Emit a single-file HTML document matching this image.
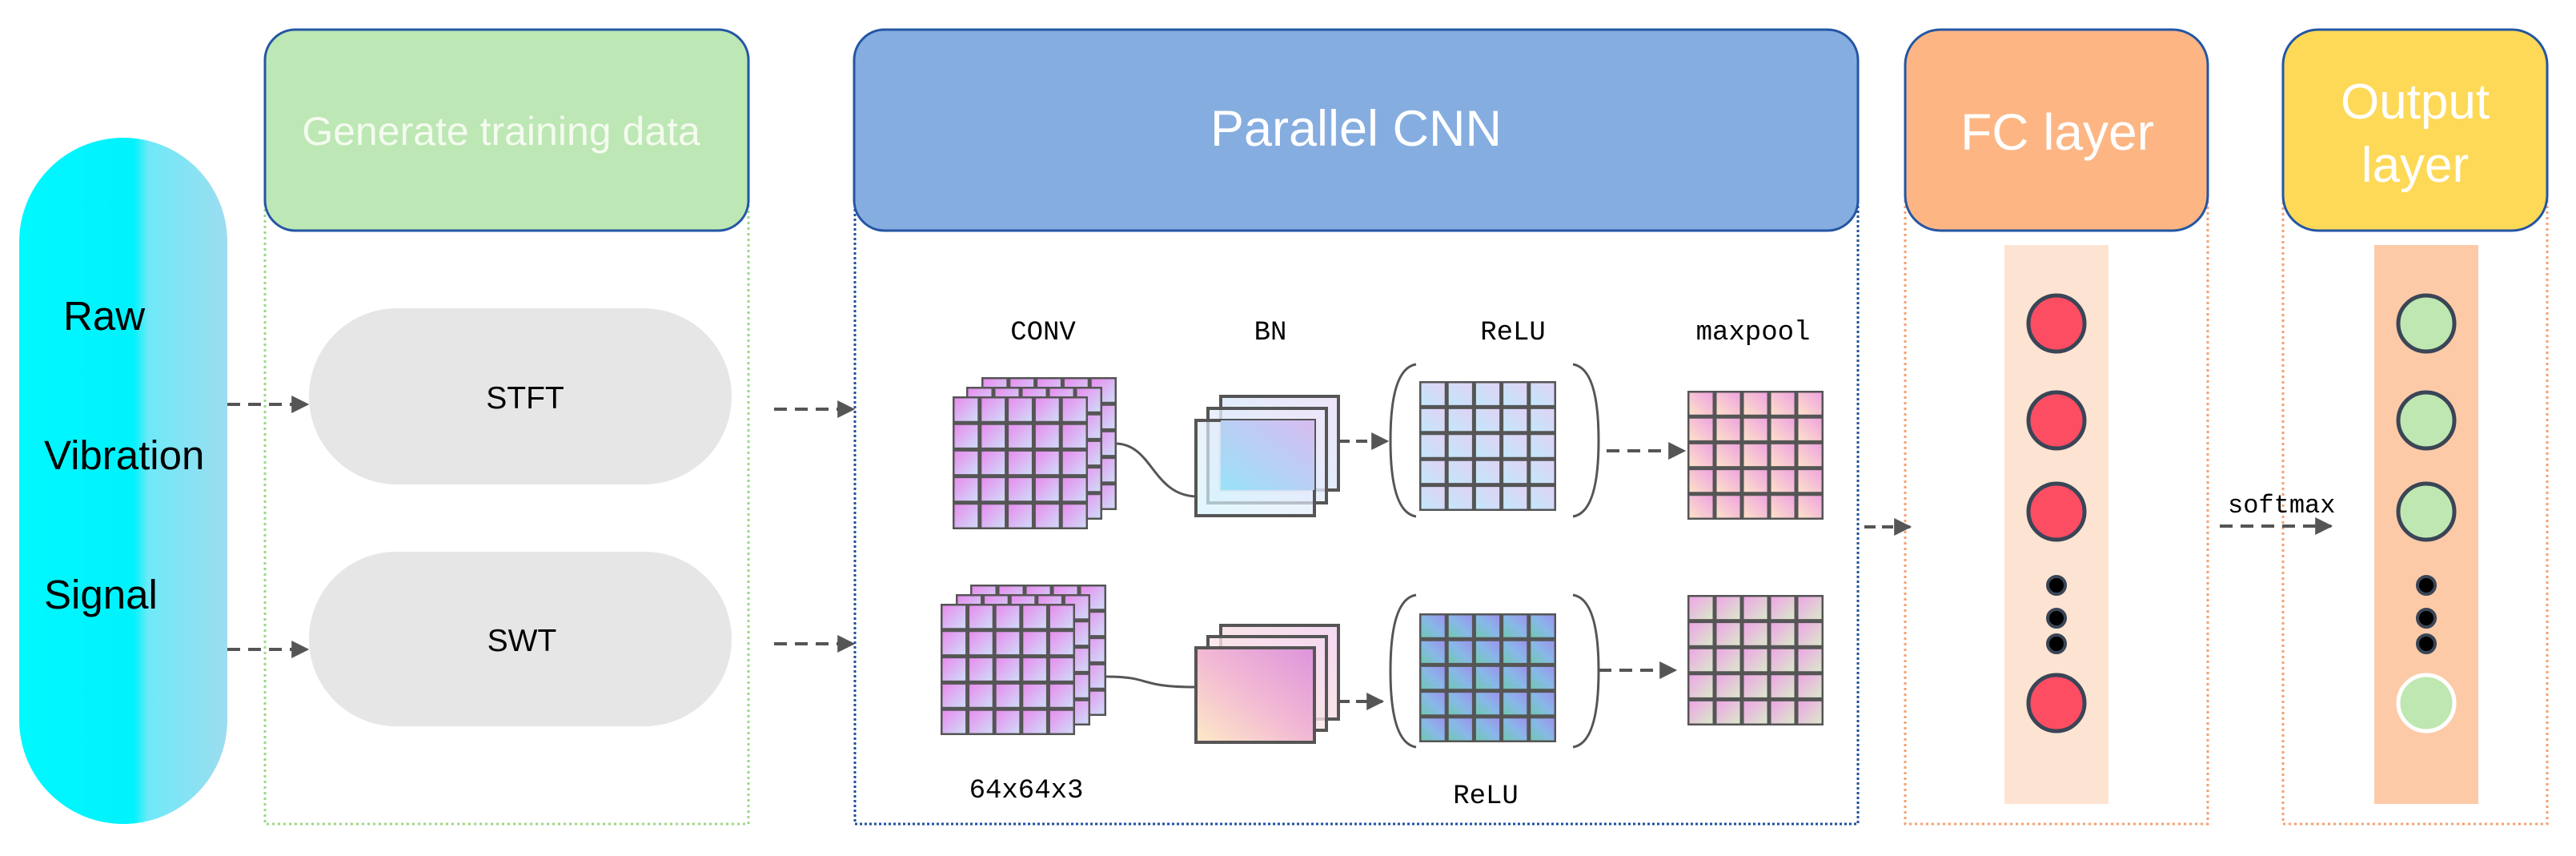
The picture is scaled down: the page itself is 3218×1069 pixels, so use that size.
<!DOCTYPE html>
<html><head><meta charset="utf-8"><style>
html,body{margin:0;padding:0;background:#fff;width:3218px;height:1069px;overflow:hidden}
svg{display:block}
.s{font-family:"Liberation Sans",Arial,sans-serif}
.m{font-family:"Liberation Mono","DejaVu Sans Mono",monospace}
</style></head><body>
<svg width="3218" height="1069" viewBox="0 0 3218 1069" xmlns="http://www.w3.org/2000/svg">
<defs>
<linearGradient id="pill" x1="0" x2="1" y1="0" y2="0">
<stop offset="0" stop-color="#00f8ff"/><stop offset="0.55" stop-color="#00f2fc"/><stop offset="0.62" stop-color="#6ee9f8"/><stop offset="1" stop-color="#9edcf0"/></linearGradient>
<linearGradient id="gconv" x1="0" y1="0" x2="1" y2="1"><stop offset="0" stop-color="#ea86ee"/><stop offset="1" stop-color="#cde2f8"/></linearGradient>
<linearGradient id="grelu" x1="0" y1="1" x2="1" y2="0"><stop offset="0" stop-color="#bfe9fb"/><stop offset="1" stop-color="#e4d0f4"/></linearGradient>
<linearGradient id="gmax" x1="0" y1="1" x2="1" y2="0"><stop offset="0" stop-color="#fde6c6"/><stop offset="1" stop-color="#ee9ee2"/></linearGradient>
<linearGradient id="grelu2" x1="0" y1="1" x2="1" y2="0"><stop offset="0" stop-color="#6ccaa8"/><stop offset="0.5" stop-color="#88b8e8"/><stop offset="1" stop-color="#a08cec"/></linearGradient>
<linearGradient id="gmax2" x1="0" y1="0" x2="1" y2="1"><stop offset="0" stop-color="#f0a0e8"/><stop offset="1" stop-color="#d8eec8"/></linearGradient>
<linearGradient id="gbn" x1="0" y1="1" x2="1" y2="0"><stop offset="0" stop-color="#98e2f8"/><stop offset="1" stop-color="#d8bcf0"/></linearGradient>
<linearGradient id="gbnb" x1="0" y1="1" x2="1" y2="0"><stop offset="0" stop-color="#d4f4fc"/><stop offset="1" stop-color="#f0e4fa"/></linearGradient>
<linearGradient id="gbn2" x1="0" y1="1" x2="1" y2="0"><stop offset="0" stop-color="#fdeac6"/><stop offset="0.5" stop-color="#f2b8d4"/><stop offset="1" stop-color="#dc94dc"/></linearGradient>
<linearGradient id="gbn2b" x1="0" y1="1" x2="1" y2="0"><stop offset="0" stop-color="#fdeede"/><stop offset="1" stop-color="#f4d8f2"/></linearGradient>
<pattern id="pconv" width=".2" height=".2" patternContentUnits="objectBoundingBox"><rect width=".2" height=".2" fill="url(#gconv)"/></pattern>
<pattern id="prelu" width=".2" height=".2" patternContentUnits="objectBoundingBox"><rect width=".2" height=".2" fill="url(#grelu)"/></pattern>
<pattern id="pmax" width=".2" height=".2" patternContentUnits="objectBoundingBox"><rect width=".2" height=".2" fill="url(#gmax)"/></pattern>
<pattern id="prelu2" width=".2" height=".2" patternContentUnits="objectBoundingBox"><rect width=".2" height=".2" fill="url(#grelu2)"/></pattern>
<pattern id="pmax2" width=".2" height=".2" patternContentUnits="objectBoundingBox"><rect width=".2" height=".2" fill="url(#gmax2)"/></pattern>
<symbol id="grid" viewBox="0 0 100 100" preserveAspectRatio="none">
<path d="M0 0H100V100H0Z M20 0V100 M40 0V100 M60 0V100 M80 0V100 M0 20H100 M0 40H100 M0 60H100 M0 80H100" fill="none" stroke="#555" stroke-width="5" vector-effect="non-scaling-stroke"/>
</symbol>
<marker id="ah2" viewBox="0 0 10 10" markerWidth="22" markerHeight="22" refX="9" refY="5" orient="auto" markerUnits="userSpaceOnUse"><path d="M0 0L10 5L0 10Z" fill="#555"/></marker>
</defs>

<rect x="24" y="172" width="260" height="857" rx="130" fill="url(#pill)"/>
<text class="s" x="79" y="412" font-size="51">Raw</text>
<text class="s" x="55" y="586" font-size="51">Vibration</text>
<text class="s" x="55" y="760" font-size="51">Signal</text>

<rect x="331" y="160" width="604" height="869" fill="none" stroke="#9ad884" stroke-width="3" stroke-dasharray="3,4"/>
<rect x="331" y="37" width="604" height="251" rx="38" fill="#bde7b4" stroke="#2356a4" stroke-width="3"/>
<text class="s" x="626" y="181" font-size="50" fill="#f4fbef" text-anchor="middle">Generate training data</text>
<rect x="386" y="385" width="528" height="220" rx="110" fill="#e6e6e6"/>
<rect x="386" y="689" width="528" height="218" rx="109" fill="#e6e6e6"/>
<text class="s" x="656" y="510" font-size="39" text-anchor="middle">STFT</text>
<text class="s" x="652" y="813" font-size="39" text-anchor="middle">SWT</text>
<g stroke="#555" stroke-width="4" stroke-dasharray="16,10" fill="none" marker-end="url(#ah2)">
<line x1="284" y1="505" x2="384" y2="505"/>
<line x1="284" y1="811" x2="384" y2="811"/>
<line x1="967" y1="511" x2="1066" y2="511"/>
<line x1="967" y1="804" x2="1066" y2="804"/>
</g>

<rect x="1068" y="160" width="1253" height="869" fill="none" stroke="#1f4f9e" stroke-width="3" stroke-dasharray="3,3"/>
<rect x="1067" y="37" width="1254" height="251" rx="38" fill="#86ade0" stroke="#2356a4" stroke-width="3"/>
<text class="s" x="1694" y="182" font-size="63" fill="#fff" text-anchor="middle">Parallel CNN</text>

<g class="m" font-size="34" text-anchor="middle">
<text x="1303" y="424">CONV</text><text x="1587" y="424">BN</text><text x="1890" y="424">ReLU</text><text x="2190" y="424">maxpool</text>
<text x="1282" y="996">64x64x3</text><text x="1856" y="1003">ReLU</text>
</g>

<rect x="1226" y="471" width="169" height="166" fill="url(#pconv)"/><use href="#grid" x="1226" y="471" width="169" height="166"/>
<rect x="1207" y="483" width="170" height="166" fill="url(#pconv)"/><use href="#grid" x="1207" y="483" width="170" height="166"/>
<rect x="1190" y="495" width="169" height="166" fill="url(#pconv)"/><use href="#grid" x="1190" y="495" width="169" height="166"/>
<path d="M1395 554 C1440 556 1440 618 1494 620" fill="none" stroke="#555" stroke-width="3"/>
<g stroke="#555" stroke-width="4">
<rect x="1525" y="495" width="147" height="117" fill="url(#gbnb)"/>
<rect x="1509" y="510" width="148" height="118" fill="url(#gbnb)" fill-opacity="0.8"/>
<rect x="1494" y="525" width="148" height="119" fill="url(#gbnb)" fill-opacity="0.7"/>
</g>
<rect x="1525" y="525" width="117" height="87" fill="url(#gbn)"/>
<line x1="1672" y1="551" x2="1733" y2="551" stroke="#555" stroke-width="4" stroke-dasharray="14,8" marker-end="url(#ah2)"/>
<path d="M1769 455 Q1737 460 1737 550 Q1737 640 1769 645 M1965 455 Q1997 460 1997 550 Q1997 640 1965 645" fill="none" stroke="#555" stroke-width="3"/>
<rect x="1773" y="476" width="171" height="162" fill="url(#prelu)"/><use href="#grid" x="1773" y="476" width="171" height="162"/>
<line x1="2007" y1="563" x2="2104" y2="563" stroke="#555" stroke-width="4" stroke-dasharray="16,10" marker-end="url(#ah2)"/>
<rect x="2108" y="488" width="170" height="161" fill="url(#pmax)"/><use href="#grid" x="2108" y="488" width="170" height="161"/>

<rect x="1212" y="730" width="170" height="164" fill="url(#pconv)"/><use href="#grid" x="1212" y="730" width="170" height="164"/>
<rect x="1194" y="742" width="168" height="164" fill="url(#pconv)"/><use href="#grid" x="1194" y="742" width="168" height="164"/>
<rect x="1175" y="754" width="168" height="164" fill="url(#pconv)"/><use href="#grid" x="1175" y="754" width="168" height="164"/>
<path d="M1382 845 C1440 845 1420 858 1494 858" fill="none" stroke="#555" stroke-width="3"/>
<g stroke="#555" stroke-width="4">
<rect x="1525" y="781" width="147" height="117" fill="url(#gbn2b)"/>
<rect x="1509" y="795" width="148" height="117" fill="url(#gbn2b)" fill-opacity="0.8"/>
<rect x="1494" y="809" width="148" height="118" fill="url(#gbn2)"/>
</g>
<line x1="1672" y1="876" x2="1727" y2="876" stroke="#555" stroke-width="4" stroke-dasharray="14,8" marker-end="url(#ah2)"/>
<path d="M1769 743 Q1737 748 1737 838 Q1737 928 1769 933 M1965 743 Q1997 748 1997 838 Q1997 928 1965 933" fill="none" stroke="#555" stroke-width="3"/>
<rect x="1773" y="766" width="171" height="161" fill="url(#prelu2)"/><use href="#grid" x="1773" y="766" width="171" height="161"/>
<line x1="1997" y1="837" x2="2093" y2="837" stroke="#555" stroke-width="4" stroke-dasharray="16,10" marker-end="url(#ah2)"/>
<rect x="2108" y="743" width="170" height="163" fill="url(#pmax2)"/><use href="#grid" x="2108" y="743" width="170" height="163"/>

<rect x="2380" y="160" width="378" height="869" fill="none" stroke="#f4a070" stroke-width="3" stroke-dasharray="3,4"/>
<rect x="2380" y="37" width="378" height="251" rx="44" fill="#fdb683" stroke="#2356a4" stroke-width="3"/>
<text class="s" x="2570" y="187" font-size="64" fill="#fff" text-anchor="middle">FC layer</text>
<rect x="2504" y="306" width="130" height="698" fill="#fde4d2"/>
<g fill="#fd4d63" stroke="#3a4556" stroke-width="5">
<circle cx="2569" cy="404" r="35"/><circle cx="2569" cy="525" r="35"/><circle cx="2569" cy="639" r="35"/><circle cx="2569" cy="878" r="35"/>
</g>
<g fill="#000" stroke="#3a4556" stroke-width="4">
<circle cx="2569" cy="731" r="11"/><circle cx="2569" cy="772" r="11"/><circle cx="2569" cy="804" r="11"/>
</g>
<line x1="2329" y1="658" x2="2386" y2="658" stroke="#555" stroke-width="4" stroke-dasharray="14,8" marker-end="url(#ah2)"/>

<rect x="2852" y="160" width="330" height="869" fill="none" stroke="#f4a070" stroke-width="3" stroke-dasharray="3,4"/>
<rect x="2852" y="37" width="330" height="251" rx="44" fill="#fed957" stroke="#2356a4" stroke-width="3"/>
<text class="s" x="3017" y="148" font-size="62" fill="#fff" text-anchor="middle">Output</text>
<text class="s" x="3017" y="227" font-size="62" fill="#fff" text-anchor="middle">layer</text>
<rect x="2966" y="306" width="130" height="698" fill="#fdcaa8"/>
<g fill="#bfe7b1" stroke="#3a4556" stroke-width="5">
<circle cx="3031" cy="404" r="35"/><circle cx="3031" cy="525" r="35"/><circle cx="3031" cy="639" r="35"/>
</g>
<circle cx="3031" cy="878" r="35" fill="#bfe7b1" stroke="#fff" stroke-width="5"/>
<g fill="#000" stroke="#3a4556" stroke-width="4">
<circle cx="3031" cy="731" r="11"/><circle cx="3031" cy="772" r="11"/><circle cx="3031" cy="804" r="11"/>
</g>
<text class="m" x="2783" y="640" font-size="32">softmax</text>
<line x1="2773" y1="657" x2="2912" y2="657" stroke="#555" stroke-width="4" stroke-dasharray="16,10" marker-end="url(#ah2)"/>
</svg>
</body></html>
